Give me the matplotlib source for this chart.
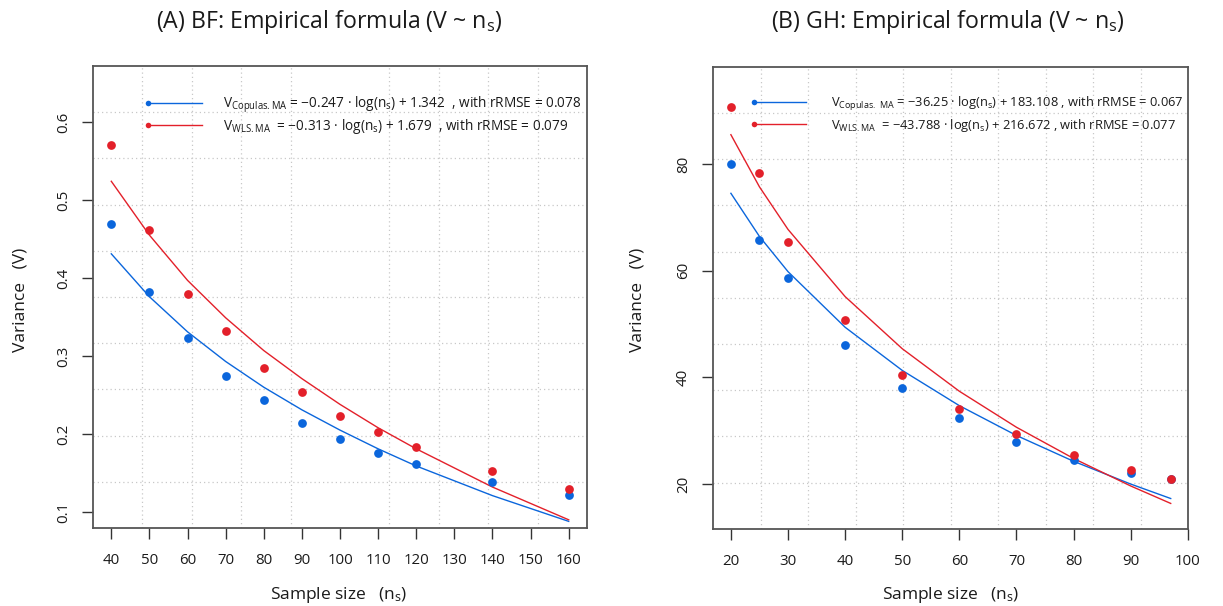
import matplotlib
matplotlib.use('Agg')
import matplotlib.pyplot as plt

plt.rcParams['font.family'] = ['Open Sans', 'DejaVu Sans']
plt.rcParams['mathtext.fontset'] = 'custom'
plt.rcParams['mathtext.rm'] = 'Open Sans'
plt.rcParams['mathtext.it'] = 'Open Sans:italic'
plt.rcParams['mathtext.bf'] = 'Open Sans:bold'

# ---------------- data: panel A (BF) ----------------
bf_n = [40, 50, 60, 70, 80, 90, 100, 110, 120, 140, 160]
bf_copulas = [0.469, 0.382, 0.323, 0.274, 0.243, 0.214, 0.194, 0.176, 0.162, 0.139, 0.122]
bf_wls = [0.570, 0.462, 0.379, 0.332, 0.284, 0.254, 0.223, 0.202, 0.183, 0.152, 0.129]
bf_copulas_fit = [0.431, 0.376, 0.331, 0.293, 0.260, 0.231, 0.205, 0.181, 0.159, 0.121, 0.088]
bf_wls_fit = [0.524, 0.455, 0.397, 0.349, 0.307, 0.271, 0.238, 0.208, 0.181, 0.132, 0.090]
bf_xticks = [40, 50, 60, 70, 80, 90, 100, 110, 120, 130, 140, 150, 160]
bf_yticks = [0.1, 0.2, 0.3, 0.4, 0.5, 0.6]
bf_legend = ['V$_\\mathregular{Copulas.MA}$ = \u22120.247 \u00b7 log(n$_\\mathregular{s}$) + 1.342  , with rRMSE = 0.078',
             'V$_\\mathregular{WLS.MA}$  = \u22120.313 \u00b7 log(n$_\\mathregular{s}$) + 1.679  , with rRMSE = 0.079']
bf_title = '(A) BF: Empirical formula (V ~ n$_\\mathregular{s}$)'

# ---------------- data: panel B (GH) ----------------
gh_n = [20, 25, 30, 40, 50, 60, 70, 80, 90, 97]
gh_copulas = [80.0, 65.7, 58.6, 46.1, 38.0, 32.4, 27.9, 24.5, 22.0, 20.9]
gh_wls = [90.7, 78.3, 65.4, 50.7, 40.5, 34.1, 29.3, 25.4, 22.6, 21.0]
gh_copulas_fit = [74.51, 66.42, 59.82, 49.39, 41.30, 34.69, 29.10, 24.26, 19.99, 17.28]
gh_wls_fit = [85.50, 75.72, 67.74, 55.14, 45.37, 37.39, 30.64, 24.79, 19.63, 16.36]
gh_xticks = [20, 30, 40, 50, 60, 70, 80, 90, 100]
gh_yticks = [20, 40, 60, 80]
gh_legend = ['V$_\\mathregular{Copulas.\\ MA}$ = \u221236.25 \u00b7 log(n$_\\mathregular{s}$) + 183.108 , with rRMSE = 0.067',
             'V$_\\mathregular{WLS.MA}$  = \u221243.788 \u00b7 log(n$_\\mathregular{s}$) + 216.672 , with rRMSE = 0.077']
gh_title = '(B) GH: Empirical formula (V ~ n$_\\mathregular{s}$)'

BLUE = '#0b66dc'
RED = '#e3202a'
TXT = '#1a1a1a'
W, H = 1223, 606

fig = plt.figure(figsize=(W / 100, H / 100), dpi=100)
renderer = fig.canvas.get_renderer()


def size_for_width(s, target_px, base=12.0):
    t = fig.text(0, 0, s, fontsize=base)
    w = t.get_window_extent(renderer).width
    t.remove()
    return base * target_px / w


TICK_FS = 10.8
LAB_FS = size_for_width('Variance   (V)', 104)
TITLE_FS = size_for_width(bf_title, 347)
LEG_FS_A = size_for_width(bf_legend[0], 358)
LEG_FS_B = min(LEG_FS_A, size_for_width(gh_legend[0], 352))


def px_rect(x0, x1, y0, y1):
    return [x0 / W, 1 - y1 / H, (x1 - x0) / W, (y1 - y0) / H]


def panel(rect, n, cop, wls, cop_fit, wls_fit, xticks, yticks, xlim, ylim,
          legend, leg_x, leg_y, leg_fs):
    ax = fig.add_axes(rect)
    ax.set_xlim(*xlim)
    ax.set_ylim(*ylim)
    # grid equally spaced across the plot region (like R grid())
    gx = [xlim[0] + i * (xlim[1] - xlim[0]) / 10 for i in range(1, 10)]
    gy = [ylim[0] + i * (ylim[1] - ylim[0]) / 10 for i in range(1, 10)]
    ax.set_xticks(gx, minor=True)
    ax.set_yticks(gy, minor=True)
    ax.grid(which='minor', color='#c8c8c8', linestyle=(0, (1, 2.4)), linewidth=0.9)
    ax.tick_params(which='minor', length=0)
    ax.set_xticks(xticks)
    ax.set_xticklabels([str(t) for t in xticks])
    ax.set_yticks(yticks)
    ax.set_yticklabels([str(t) for t in yticks], rotation=90, va='center')
    ax.tick_params(which='major', length=8, width=1.0, color='#333333',
                   labelsize=TICK_FS, labelcolor=TXT)
    ax.tick_params(axis='x', pad=10)
    ax.tick_params(axis='y', pad=8)
    for s in ax.spines.values():
        s.set_color('#555555')
        s.set_linewidth(1.3)

    ax.plot(n, cop_fit, color=BLUE, lw=1.0, zorder=3)
    ax.plot(n, wls_fit, color=RED, lw=1.0, zorder=3)
    ax.plot(n, cop, 'o', color=BLUE, ms=6.3, mec='none', zorder=4)
    ax.plot(n, wls, 'o', color=RED, ms=6.3, mec='none', zorder=5)

    # legend (marker at the left end of the line)
    for k, (col, lab) in enumerate(zip([BLUE, RED], legend)):
        yy = leg_y[k]
        ax.plot([leg_x[0], leg_x[1]], [yy, yy], color=col, lw=1.0,
                transform=ax.transAxes, clip_on=False, zorder=6)
        ax.plot([leg_x[0]], [yy], 'o', color=col, ms=4, mec='none',
                transform=ax.transAxes, clip_on=False, zorder=6)
        ax.text(leg_x[2], yy - 0.004, lab, transform=ax.transAxes, ha='left',
                va='center', fontsize=leg_fs, color=TXT, zorder=6)
    return ax


axA = panel(px_rect(93, 587, 66, 528), bf_n, bf_copulas, bf_wls,
            bf_copulas_fit, bf_wls_fit, bf_xticks, bf_yticks,
            (35.2, 164.8), (0.0795, 0.6718), bf_legend,
            (0.112, 0.220, 0.263), (0.9206, 0.8723), LEG_FS_A)
axB = panel(px_rect(713.3, 1188.3, 66.7, 528.7), gh_n, gh_copulas, gh_wls,
            gh_copulas_fit, gh_wls_fit, gh_xticks, gh_yticks,
            (16.92, 100.08), (11.62, 98.25), gh_legend,
            (0.0857, 0.1945, 0.2472), (0.924, 0.877), LEG_FS_B)

# titles and axis labels
fig.text(329.5 / W, 1 - 22 / H, bf_title, ha='center', va='center', fontsize=TITLE_FS, color=TXT)
fig.text(948 / W, 1 - 22 / H, gh_title, ha='center', va='center', fontsize=TITLE_FS, color=TXT)
xl = 'Sample size   (n$_\\mathregular{s}$)'
yl = 'Variance   (V)'
fig.text(339 / W, 1 - 595 / H, xl, ha='center', va='center', fontsize=LAB_FS, color=TXT)
fig.text(951 / W, 1 - 595 / H, xl, ha='center', va='center', fontsize=LAB_FS, color=TXT)
fig.text(20.5 / W, 1 - 300 / H, yl, ha='center', va='center', rotation=90, fontsize=LAB_FS, color=TXT)
fig.text(638 / W, 1 - 300 / H, yl, ha='center', va='center', rotation=90, fontsize=LAB_FS, color=TXT)

fig.savefig('out.png', dpi=100, facecolor='white')
